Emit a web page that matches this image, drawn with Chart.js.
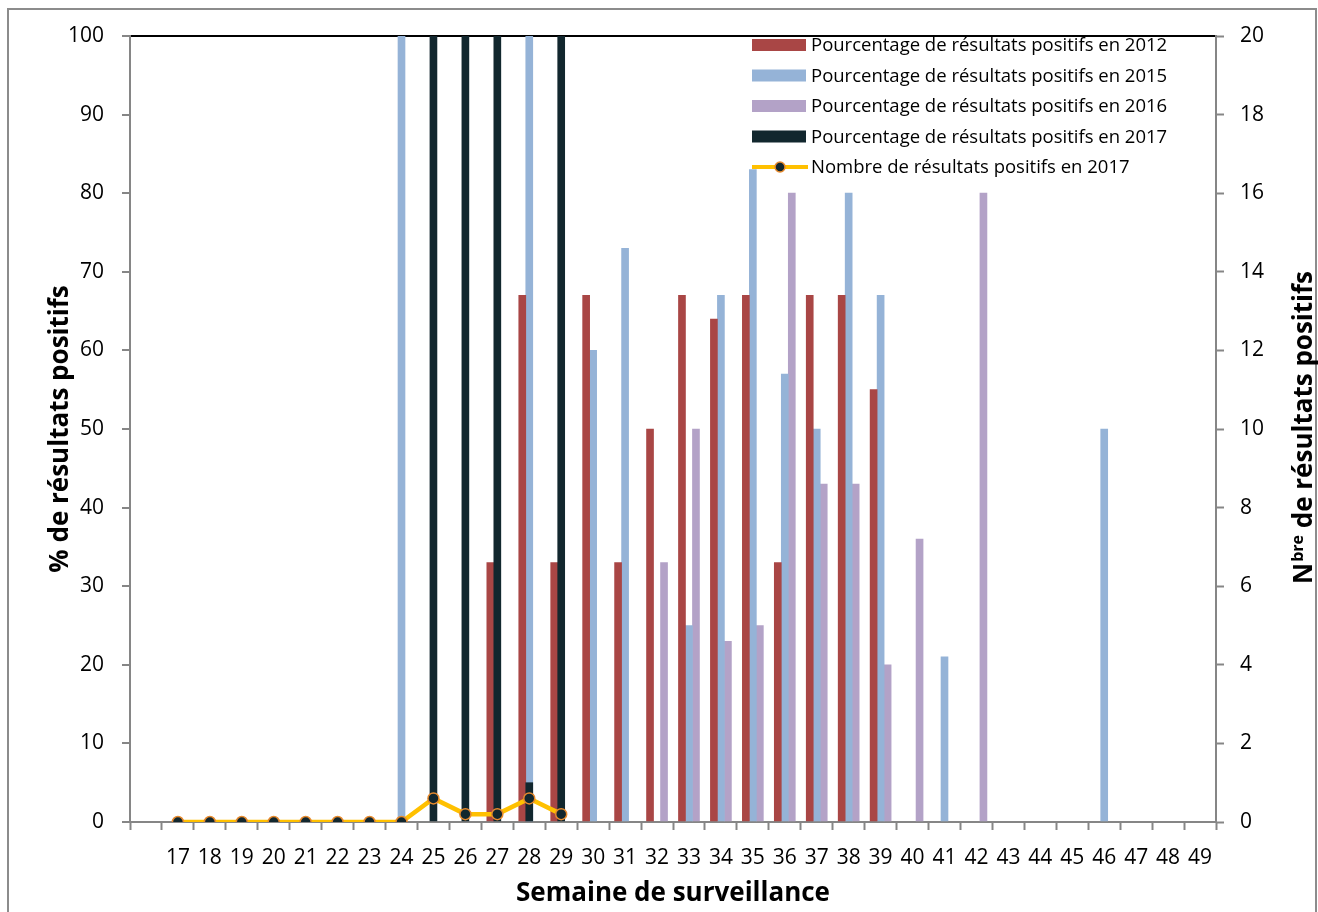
<!DOCTYPE html>
<html><head><meta charset="utf-8">
<script src="https://cdn.jsdelivr.net/npm/chart.js@4.4.0/dist/chart.umd.min.js"></script>
<style>html,body{margin:0;padding:0;background:#fff;}</style>
</head><body>
<canvas id="c" width="1318" height="912"></canvas>
<script>
const weeks = ['', '17','18','19','20','21','22','23','24','25','26','27','28','29','30','31','32','33','34','35','36','37','38','39','40','41','42','43','44','45','46','47','48','49'];
//                  ''   17   18   19   20   21   22   23   24   25   26   27   28   29   30   31   32   33   34   35   36   37   38   39   40   41   42   43   44   45   46   47   48   49
const pct2012  = [null,null,null,null,null,null,null,null,null,null,null,  33,  67,  33,  67,  33,  50,  67,  64,  67,  33,  67,  67,  55,null,null,null,null,null,null,null,null,null,null];
const pct2015  = [null,null,null,null,null,null,null,null, 100,null,null,null, 100,null,  60,  73,null,  25,  67,  83,  57,  50,  80,  67,null,  21,null,null,null,null,  50,null,null,null];
const pct2016  = [null,null,null,null,null,null,null,null,null,null,null,null,null,null,null,null,  33,  50,  23,  25,  80,  43,  43,  20,  36,null,  80,null,null,null,null,null,null,null];
const pct2017  = [null,null,null,null,null,null,null,null,null, 100, 100, 100,   5, 100,null,null,null,null,null,null,null,null,null,null,null,null,null,null,null,null,null,null,null,null];
const count2017= [null,   0,   0,   0,   0,   0,   0,   0,   0,   3,   1,   1,   3,   1,null,null,null,null,null,null,null,null,null,null,null,null,null,null,null,null,null,null,null,null];
const leftTicks = [0,100,10];
const rightTicks = [0,20,2];

const FONT = 'Open Sans';
const GRAY = '#868686';

const framePlugin = {
  id: 'extras',
  afterDraw(chart) {
    const ctx = chart.ctx;
    ctx.save();
    // outer frame
    ctx.strokeStyle = '#8c8c8c'; ctx.lineWidth = 2;
    ctx.strokeRect(8, 9, 1308, 910);
    // legend
    const items = chart.data.datasets;
    let y = 45;
    ctx.font = '18.5px ' + FONT;
    ctx.textBaseline = 'middle';
    for (const ds of items) {
      if (ds.type === 'line') {
        ctx.strokeStyle = ds.borderColor; ctx.lineWidth = 4;
        ctx.beginPath(); ctx.moveTo(752, y); ctx.lineTo(808, y); ctx.stroke();
        ctx.beginPath(); ctx.arc(780, y, 5, 0, Math.PI*2);
        ctx.fillStyle = ds.pointBackgroundColor; ctx.fill();
        ctx.strokeStyle = ds.pointBorderColor; ctx.lineWidth = 1.5; ctx.stroke();
      } else {
        ctx.fillStyle = ds.backgroundColor;
        ctx.fillRect(752, y - 6, 54, 12);
      }
      ctx.fillStyle = '#000';
      ctx.fillText(ds.label, 811, y + 1);
      y += 30.5;
    }
    // right axis title with superscript
    ctx.translate(1312, 428);
    ctx.rotate(-Math.PI/2);
    const big = 'bold 26px ' + FONT, small = 'bold 16px ' + FONT;
    const p1 = 'N', p2 = 'bre', p3 = ' de résultats positifs';
    ctx.font = big; const w1 = ctx.measureText(p1).width, w3 = ctx.measureText(p3).width;
    ctx.font = small; const w2 = ctx.measureText(p2).width;
    let x0 = -(w1 + w2 + w3)/2;
    ctx.textBaseline = 'alphabetic'; ctx.textAlign = 'left'; ctx.fillStyle = '#000';
    ctx.font = big; ctx.fillText(p1, x0, 0);
    ctx.font = small; ctx.fillText(p2, x0 + w1 + 1, -9);
    ctx.font = big; ctx.fillText(p3, x0 + w1 + w2 + 1, 0);
    ctx.restore();
  }
};

const barCommon = { barThickness: 7, maxBarThickness: 7, borderWidth: 0 };

new Chart(document.getElementById('c'), {
  data: {
    labels: weeks,
    datasets: [
      Object.assign({ type: 'bar', label: 'Pourcentage de résultats positifs en 2012', data: pct2012, backgroundColor: '#A94645', yAxisID: 'y', order: 2 }, barCommon),
      Object.assign({ type: 'bar', label: 'Pourcentage de résultats positifs en 2015', data: pct2015, backgroundColor: '#95B3D7', yAxisID: 'y', order: 2 }, barCommon),
      Object.assign({ type: 'bar', label: 'Pourcentage de résultats positifs en 2016', data: pct2016, backgroundColor: '#B3A2C7', yAxisID: 'y', order: 2 }, barCommon),
      Object.assign({ type: 'bar', label: 'Pourcentage de résultats positifs en 2017', data: pct2017, backgroundColor: '#12272E', yAxisID: 'y', order: 1, grouped: false }, barCommon),
      { type: 'line', label: 'Nombre de résultats positifs en 2017', data: count2017, yAxisID: 'y', order: 0,
        borderColor: '#FFC000', borderWidth: 4.5, pointRadius: 5.5, pointBackgroundColor: '#12272E',
        pointBorderColor: '#E68A2E', pointBorderWidth: 1.5, tension: 0, spanGaps: false }
    ]
  },
  options: {
    responsive: false, animation: false, devicePixelRatio: 1,
    layout: { padding: { top: 36, left: 0, right: 0, bottom: 0 } },
    plugins: { legend: { display: false }, tooltip: { enabled: false } },
    scales: {
      x: {
        type: 'category', offset: true,
        grid: { offset: true, drawOnChartArea: false, drawTicks: true, tickLength: 8, tickColor: GRAY, tickWidth: 2 },
        border: { color: GRAY, width: 2 },
        ticks: { font: { family: FONT, size: 21 }, color: '#000', padding: 15, maxRotation: 0, autoSkip: false },
        title: { display: true, text: 'Semaine de surveillance', font: { family: FONT, size: 26, weight: 'bold', lineHeight: 1 }, color: '#000', padding: { top: 0, bottom: 5 } },
        afterFit(s) { s.height = 90; }
      },
      y: {
        position: 'left', min: leftTicks[0], max: leftTicks[1],
        ticks: { stepSize: leftTicks[2], font: { family: FONT, size: 21 }, color: '#000', padding: 18 },
        grid: { drawOnChartArea: true, color: (c) => c.tick && c.tick.value === 100 ? '#000' : 'rgba(0,0,0,0)', lineWidth: 2, tickColor: GRAY, tickLength: 8, tickWidth: 2 },
        border: { color: GRAY, width: 2 },
        title: { display: true, text: '% de résultats positifs', font: { family: FONT, size: 26, weight: 'bold', lineHeight: 1 }, color: '#000', padding: { top: 48, bottom: 0 } },
        afterFit(s) { s.width = 130; }
      },
      y1: {
        position: 'right', min: rightTicks[0], max: rightTicks[1],
        ticks: { stepSize: rightTicks[2], font: { family: FONT, size: 21 }, color: '#000', padding: 16 },
        grid: { drawOnChartArea: false, tickColor: GRAY, tickLength: 8, tickWidth: 2 },
        border: { color: GRAY, width: 2 },
        afterFit(s) { s.width = 102; }
      }
    }
  },
  plugins: [framePlugin]
});
</script>
</body></html>
